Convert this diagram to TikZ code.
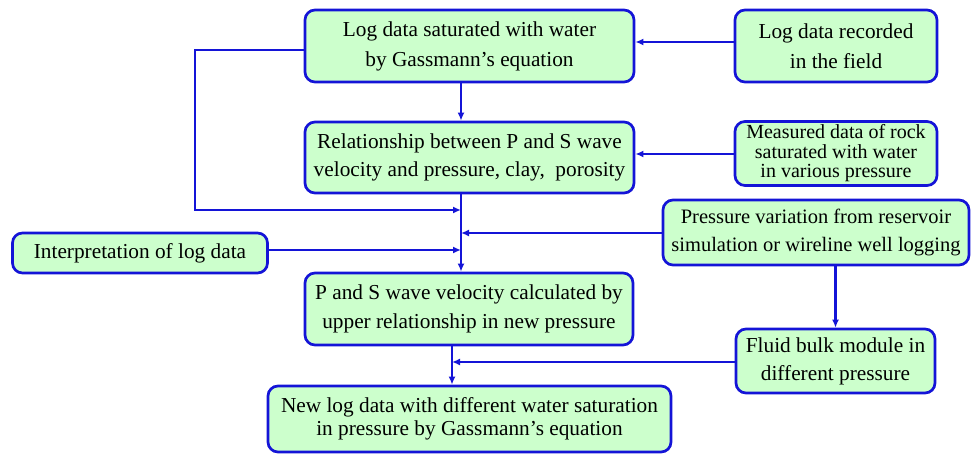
\documentclass[tikz,border=0pt]{standalone}
\usepackage{fontspec}
\setmainfont{Liberation Serif}
\usetikzlibrary{arrows.meta}
\definecolor{boxfill}{RGB}{204,255,204}
\definecolor{boxline}{RGB}{20,20,215}
\tikzset{
  box/.style={draw=boxline, fill=boxfill, line width=2.7pt, rounded corners=10pt,
    inner sep=0pt, align=center, text=black,
    font=\fontsize{21.3}{30}\selectfont},
  arr/.style={draw=boxline, line width=2.2pt, -{Latex[length=8pt,width=7pt]}}
}
\begin{document}
\begin{tikzpicture}[x=1pt,y=-1pt]
\useasboundingbox (0,0) rectangle (971,454);
\node[box, minimum width=329pt, minimum height=72pt] (b1) at (469.5,46) {Log data saturated with water\\by Gassmann's equation};
\node[box, minimum width=329pt, minimum height=71pt, font=\fontsize{21.3}{28}\selectfont] (b2) at (469.5,157.5) {Relationship between P and S wave\\velocity and pressure, clay,\ \ porosity};
\node[box, minimum width=202pt, minimum height=72pt] (b3) at (836,46) {Log data recorded\\in the field};
\node[box, minimum width=202pt, minimum height=64pt, font=\fontsize{20}{19.5}\selectfont] (b4) at (836,153.5) {Measured data of rock\\saturated with water\\in various pressure};
\node[box, minimum width=306pt, minimum height=65pt, font=\fontsize{20.5}{28}\selectfont] (b5) at (816,232.5) {Pressure variation from reservoir\\simulation or wireline well logging};
\node[box, minimum width=255pt, minimum height=40pt] (b6) at (140,253) {Interpretation of log data};
\node[box, minimum width=328pt, minimum height=72pt, font=\fontsize{21.3}{29}\selectfont] (b7) at (469,309) {P and S wave velocity calculated by\\upper relationship in new pressure};
\node[box, minimum width=199pt, minimum height=64pt, font=\fontsize{21.3}{28}\selectfont] (b8) at (835.5,361) {Fluid bulk module in\\different pressure};
\node[box, minimum width=403pt, minimum height=66pt, font=\fontsize{21.3}{22.5}\selectfont] (b9) at (469.5,419) {New log data with different water saturation\\in pressure by Gassmann's equation};
\coordinate (j1) at (461,210);
\coordinate (j2) at (461,233);
\coordinate (j3) at (461,250);
\coordinate (j4) at (452,362);
\coordinate (l1) at (195,50);
\coordinate (r1) at (700,42);
\coordinate (r2) at (700,154);
\draw[arr] (b3.west |- r1) -- (b1.east |- r1);
\draw[arr] (b4.west |- r2) -- (b2.east |- r2);
\draw[arr] (b1.south -| j1) -- (b2.north -| j1);
\draw[arr] (b1.west |- l1) -- (l1) |- (j1);
\draw[arr] (b2.south -| j1) -- (b7.north -| j1);
\draw[arr] (b5.west |- j2) -- (j2);
\draw[arr] (b6.east |- j3) -- (j3);
\draw[arr] (b5.south -| b8.north) -- (b8.north);
\draw[arr] (b7.south -| j4) -- (b9.north -| j4);
\draw[arr] (b8.west |- j4) -- (j4);
\end{tikzpicture}
\end{document}
